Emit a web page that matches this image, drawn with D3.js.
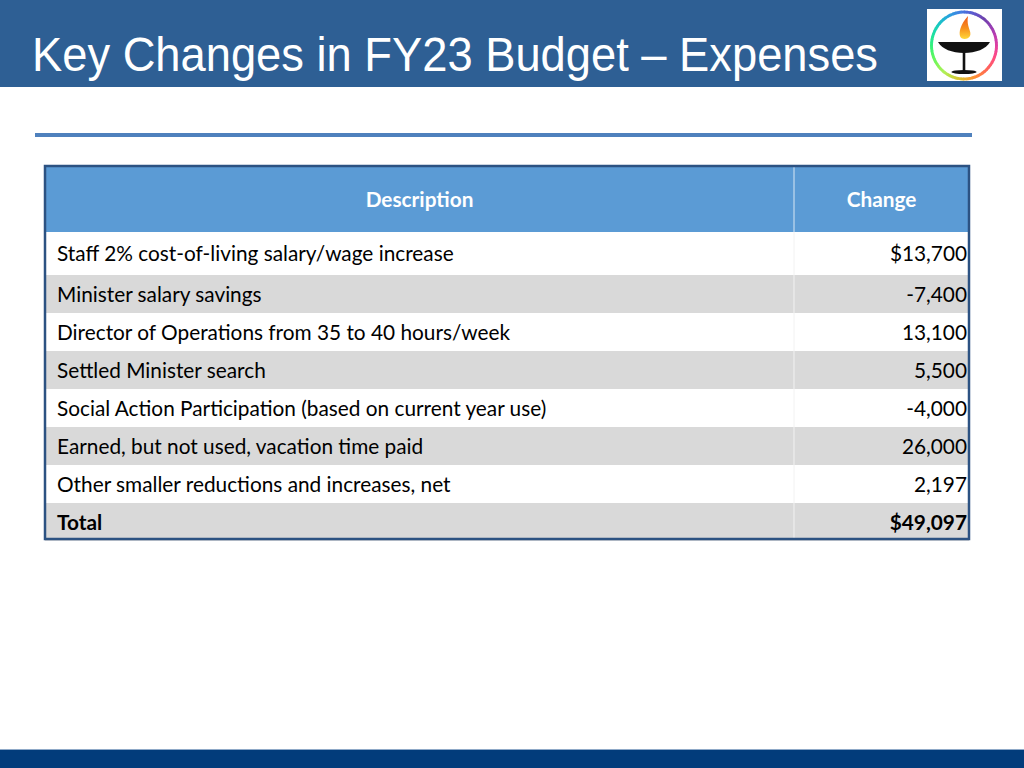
<!DOCTYPE html>
<html>
<head>
<meta charset="utf-8">
<script src="https://cdn.jsdelivr.net/npm/d3@7"></script>
<style>
  html, body { margin: 0; padding: 0; background: #fff; }
  svg { display: block; }
</style>
</head>
<body>
<svg id="slide" width="1024" height="768"></svg>
<script>
// Slide data
let titleText = "Key Changes in FY23 Budget \u2013 Expenses"
let headers = ["Description", "Change"]
let descriptions = [
    "Staff 2% cost-of-living salary/wage increase",
    "Minister salary savings",
    "Director of Operations from 35 to 40 hours/week",
    "Settled Minister search",
    "Social Action Participation (based on current year use)",
    "Earned, but not used, vacation time paid",
    "Other smaller reductions and increases, net",
    "Total"
]
let changes = [13700, -7400, 13100, 5500, -4000, 26000, 2197, 49097]
let dollarRows = [0, 7]   // rows shown with a $ sign
let boldRows = [7]

// Global settings
let W = 1024, H = 768
let headBlue = "#2e5f94"
let tableBlue = "#5b9bd5"
let rowGray = "#d9d9d9"
let bodyFont = "Lato, 'Noto Sans', sans-serif"
let bodySize = 20.8

let svg = d3.select("#slide")
let locale = d3.formatLocale({decimal: ".", thousands: ",", grouping: [3], currency: ["$", ""], minus: "-"})
let fmt = locale.format(",")
let fmtDollar = locale.format("$,")

function drawHeader() {
    svg.append("rect").attr("x", 0).attr("y", 0).attr("width", W).attr("height", 87).attr("fill", headBlue)
    svg.append("text")
        .attr("x", 32).attr("y", 71)
        .attr("fill", "white")
        .attr("font-family", "'Liberation Sans', Arial, sans-serif")
        .attr("font-size", 48)
        .attr("textLength", 846)
        .attr("lengthAdjust", "spacingAndGlyphs")
        .text(titleText)

    // rule under the title
    svg.append("rect").attr("x", 35).attr("y", 133).attr("width", 937).attr("height", 4).attr("fill", "#4f81bd")

    // bottom band
    svg.append("rect").attr("x", 0).attr("y", 749).attr("width", W).attr("height", 19).attr("fill", "#023c7b")
    svg.append("rect").attr("x", 0).attr("y", 749).attr("width", W).attr("height", 1).attr("fill", "#8fa9c8")
}

function drawLogo() {
    let g = svg.append("g")
    g.append("rect").attr("x", 927).attr("y", 9).attr("width", 75).attr("height", 72).attr("fill", "white")

    // rainbow ring made of small arc pieces
    let cx = 964, cy = 45.5
    let ring = g.append("g").attr("transform", `translate(${cx},${cy}) scale(0.97,1)`)
    let n = 72
    let arc = d3.arc().innerRadius(32).outerRadius(35)
    let pieces = d3.range(n).map(i => ({startAngle: i / n * 2 * Math.PI, endAngle: (i + 1.2) / n * 2 * Math.PI, t: i / n}))
    ring.selectAll("path").data(pieces).enter().append("path")
        .attr("d", arc)
        .attr("fill", d => d3.interpolateRainbow((d.t + 0.9) % 1))

    // flame
    let defs = svg.append("defs")
    let grad = defs.append("linearGradient").attr("id", "flame").attr("x1", 0).attr("y1", 0).attr("x2", 0).attr("y2", 1)
    grad.append("stop").attr("offset", "0%").attr("stop-color", "#f0561a")
    grad.append("stop").attr("offset", "55%").attr("stop-color", "#f7921e")
    grad.append("stop").attr("offset", "100%").attr("stop-color", "#ffd83a")
    g.append("path")
        .attr("d", "M968,16 C960,25 959,32 960,36 C961,40 968,40 970,36 C972,31 966,27 968,16 Z")
        .attr("fill", "url(#flame)")

    // chalice
    g.append("path")
        .attr("d", "M938,42 L990,42 C986,49 976,53 964,53 C952,53 942,49 938,42 Z")
        .attr("fill", "#111")
    g.append("rect").attr("x", 962.7).attr("y", 52).attr("width", 2.6).attr("height", 19).attr("fill", "#111")
    g.append("ellipse").attr("cx", 964).attr("cy", 72).attr("rx", 12.5).attr("ry", 2).attr("fill", "#111")
}

function drawTable() {
    let left = 45, right = 969, divX = 794
    let headTop = 166, headBottom = 232
    let firstRowBottom = 275

    // rows after the first share one band scale
    let rowIdx = d3.range(descriptions.length)
    let yBand = d3.scaleBand().domain(rowIdx.slice(1)).range([firstRowBottom, 541])
    let rowY = i => i === 0 ? headBottom : yBand(i)
    let rowH = i => i === 0 ? firstRowBottom - headBottom : yBand.bandwidth()

    let xCol = d3.scaleOrdinal().domain(headers).range([[left, divX], [divX, right]])

    // header
    svg.append("rect").attr("x", left).attr("y", headTop).attr("width", right - left).attr("height", headBottom - headTop).attr("fill", tableBlue)
    svg.selectAll("text.head").data(headers).enter().append("text")
        .attr("class", "head")
        .attr("x", d => (xCol(d)[0] + xCol(d)[1]) / 2)
        .attr("y", 207)
        .attr("text-anchor", "middle")
        .attr("fill", "white")
        .attr("font-family", bodyFont)
        .attr("font-weight", "bold")
        .attr("font-size", bodySize)
        .text(d => d)

    // body rows
    let rows = svg.selectAll("g.row").data(rowIdx).enter().append("g").attr("class", "row")
    rows.append("rect")
        .attr("x", left).attr("y", d => rowY(d))
        .attr("width", right - left).attr("height", d => rowH(d))
        .attr("fill", d => d % 2 === 1 ? rowGray : "white")
    rows.append("text")
        .attr("x", 57)
        .attr("y", d => rowY(d) + rowH(d) / 2 + 7.5)
        .attr("font-family", bodyFont)
        .attr("font-size", bodySize)
        .attr("font-weight", d => boldRows.includes(d) ? "bold" : "normal")
        .attr("fill", "#000")
        .text(d => descriptions[d])
    rows.append("text")
        .attr("x", 967)
        .attr("y", d => rowY(d) + rowH(d) / 2 + 7.5)
        .attr("text-anchor", "end")
        .attr("font-family", bodyFont)
        .attr("font-size", bodySize)
        .attr("font-weight", d => boldRows.includes(d) ? "bold" : "normal")
        .attr("fill", "#000")
        .text(d => dollarRows.includes(d) ? fmtDollar(changes[d]) : fmt(changes[d]))

    // column divider
    svg.append("line").attr("x1", divX).attr("x2", divX).attr("y1", headTop).attr("y2", 538)
        .attr("stroke", "#f2f2f2").attr("stroke-width", 1)
    svg.append("line").attr("x1", divX).attr("x2", divX).attr("y1", headTop).attr("y2", headBottom)
        .attr("stroke", "#8dbbe6").attr("stroke-width", 1)

    // outer border
    svg.append("rect").attr("x", left).attr("y", headTop).attr("width", right - left).attr("height", 539 - headTop)
        .attr("fill", "none").attr("stroke", "#2c5282").attr("stroke-width", 2.5)
}

drawHeader()
drawLogo()
drawTable()
</script>
</body>
</html>
